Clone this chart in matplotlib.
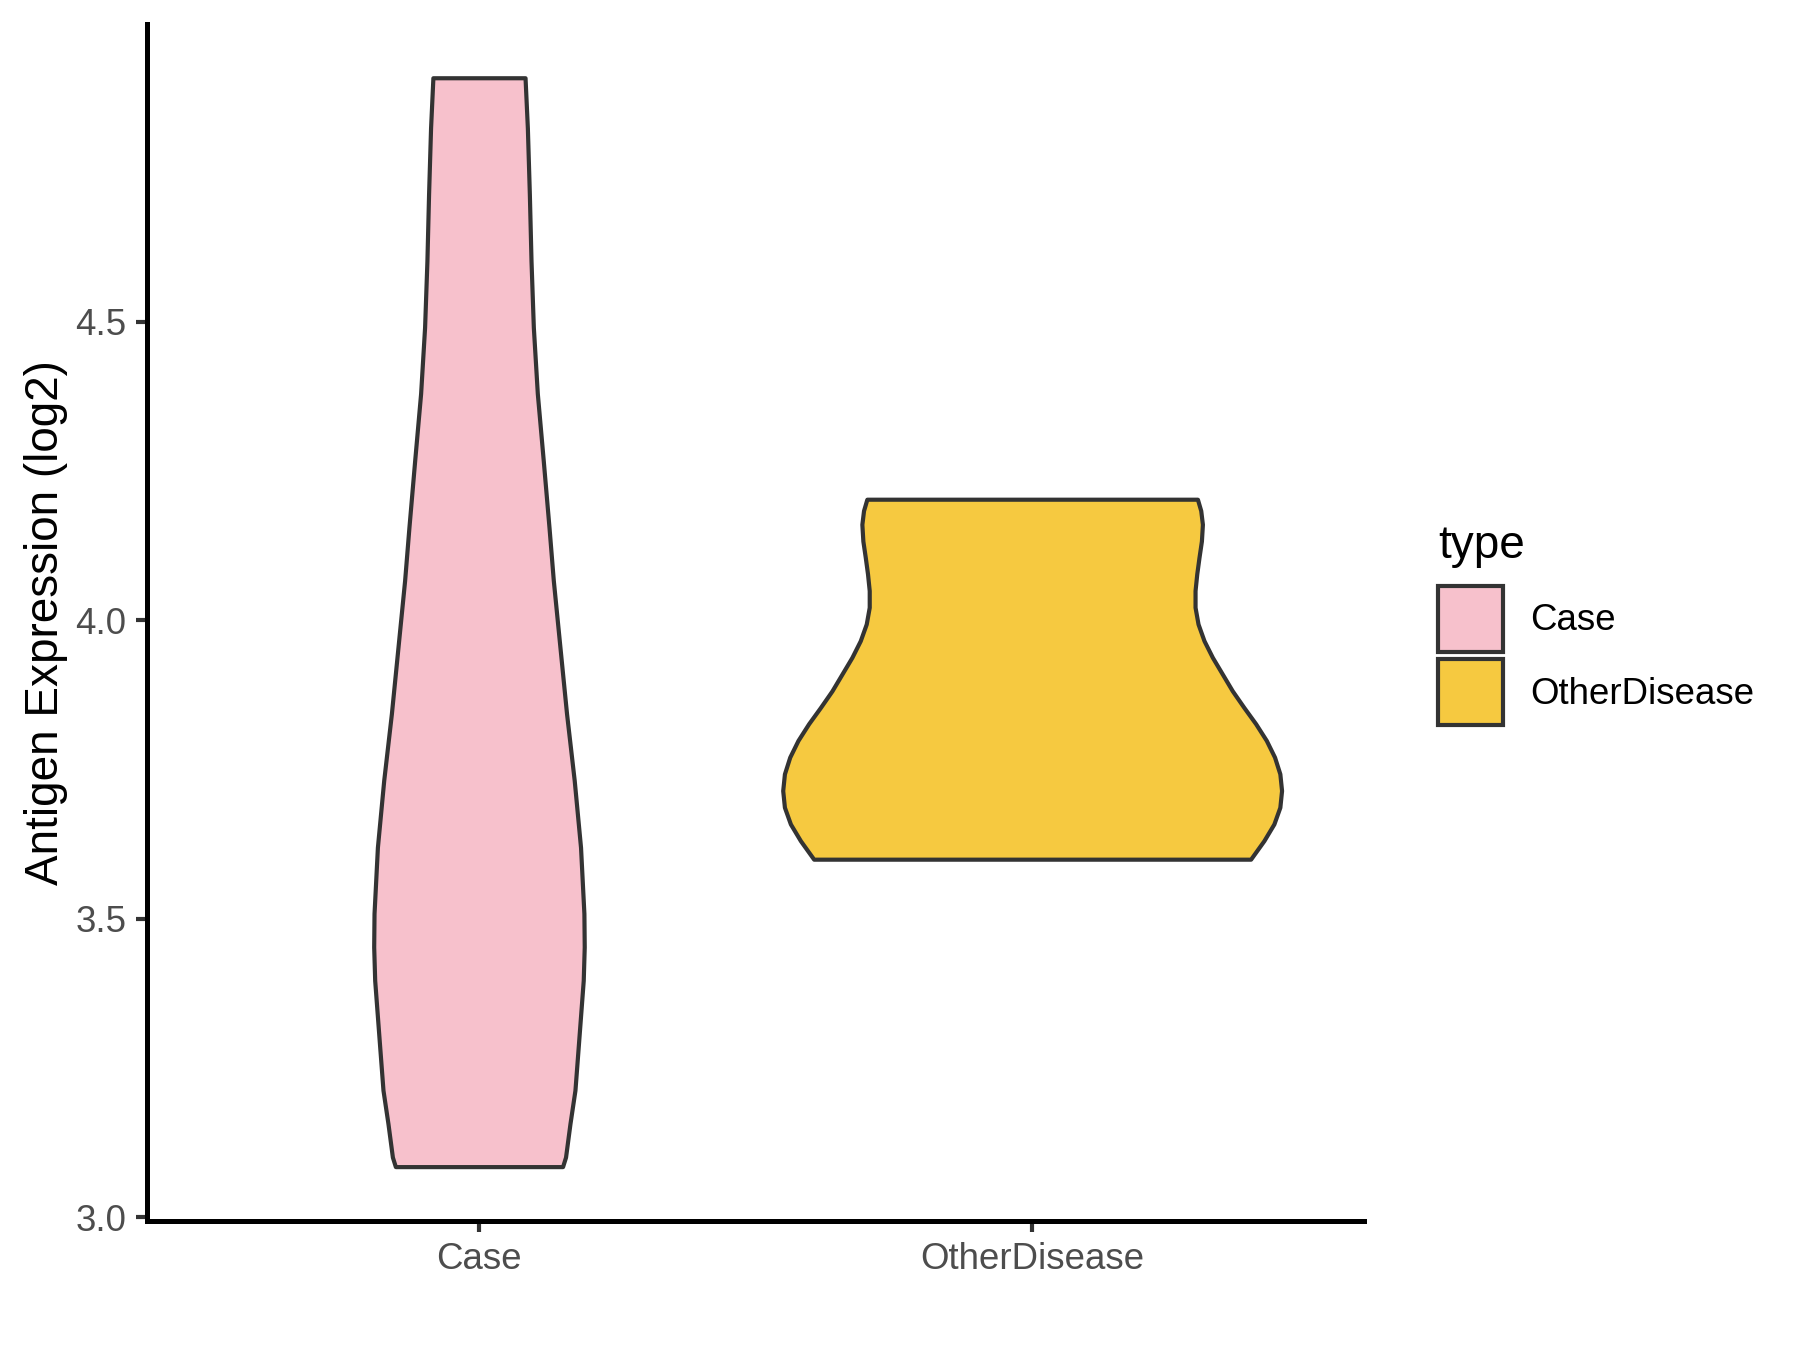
import matplotlib
matplotlib.use("Agg")
import matplotlib.pyplot as plt
from matplotlib.patches import Patch
import numpy as np

plt.rcParams["font.family"] = ["Liberation Sans", "DejaVu Sans"]

# groups on the x axis
groups = ["Case", "OtherDisease"]
colors = ["#F7C1CC", "#F6C940"]

# violin outlines: expression level and half width
case_y = [4.909, 4.825, 4.714, 4.602, 4.491, 4.380, 4.267, 4.156, 4.067,
          3.955, 3.844, 3.732, 3.620, 3.509, 3.453, 3.397, 3.285, 3.213,
          3.157, 3.101, 3.085]
case_hw = [0.0833, 0.0875, 0.0911, 0.0941, 0.0983, 0.1055, 0.1163, 0.1266,
           0.1344, 0.1464, 0.1583, 0.1722, 0.1836, 0.1897, 0.1903, 0.1885,
           0.1794, 0.1735, 0.1645, 0.1565, 0.1511]

other_y = [4.203, 4.184, 4.161, 4.133, 4.106, 4.078, 4.050, 4.022, 3.994,
           3.966, 3.938, 3.910, 3.882, 3.854, 3.827, 3.799, 3.771, 3.743,
           3.715, 3.687, 3.659, 3.631, 3.600]
other_hw = [0.2988, 0.3048, 0.3078, 0.3060, 0.3017, 0.2976, 0.2945, 0.2945,
            0.2999, 0.3107, 0.3259, 0.3439, 0.3619, 0.3829, 0.4040, 0.4233,
            0.4382, 0.4478, 0.4509, 0.4478, 0.4370, 0.4189, 0.3949]

yticks = [3.0, 3.5, 4.0, 4.5]
ytick_labels = ["3.0", "3.5", "4.0", "4.5"]

fig = plt.figure(figsize=(6, 4.5), dpi=300)
ax = fig.add_axes([0.0817, 0.0956, 0.6761, 0.8866])

profiles = [(case_y, case_hw), (other_y, other_hw)]
for i, (yy, hw) in enumerate(profiles):
    pos = i + 1
    yy = np.array(yy)
    hw = np.array(hw)
    ax.fill_betweenx(yy, pos - hw, pos + hw, facecolor=colors[i],
                     edgecolor="#333333", linewidth=1.0, joinstyle="round")

ax.set_xlim(0.4, 2.6)
ax.set_ylim(2.994, 4.999)
ax.set_xticks([1, 2])
ax.set_xticklabels(groups)
ax.set_yticks(yticks)
ax.set_yticklabels(ytick_labels)

for s in ["top", "right"]:
    ax.spines[s].set_visible(False)
for s in ["left", "bottom"]:
    ax.spines[s].set_color("black")
    ax.spines[s].set_linewidth(1.2)

ax.tick_params(axis="both", length=2.75, width=1.0, color="#333333",
               labelcolor="#4D4D4D", labelsize=8.8, pad=2.2)
ax.set_ylabel("Antigen Expression (log2)", fontsize=11, color="black", labelpad=1.8)

handles = [Patch(facecolor=colors[i], edgecolor="#333333", linewidth=1.0,
                 label=groups[i]) for i in range(2)]
leg = ax.legend(handles=handles, title="type", loc="upper left",
                bbox_to_anchor=(0.799, 0.612), bbox_transform=fig.transFigure,
                frameon=False, fontsize=8.8, title_fontsize=11,
                handlelength=1.78, handleheight=2.4, labelspacing=0.2,
                handletextpad=0.72, borderpad=0, borderaxespad=0,
                alignment="left")
# a bit more room between the title and the keys
leg._legend_box.sep = 4.3

fig.savefig("out.png", dpi=300, facecolor="white")
plt.close()
